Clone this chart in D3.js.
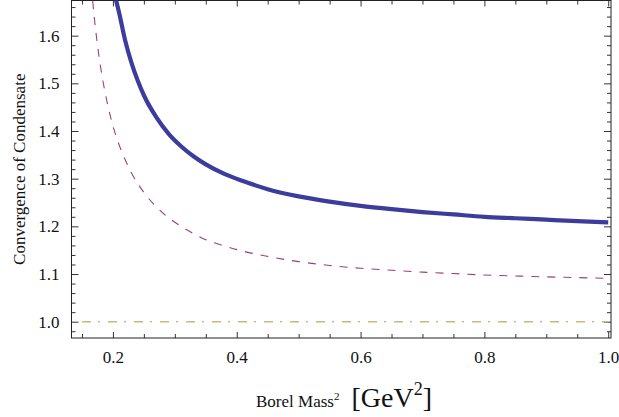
<!DOCTYPE html>
<html><head><meta charset="utf-8">
<script src="https://cdn.jsdelivr.net/npm/d3@7"></script>
<style>body{margin:0;background:#fff}svg{display:block}</style>
</head><body>
<script>
// Data
const massBlue = [0.20,0.21,0.22,0.23,0.24,0.25,0.27,0.29,0.31,0.33,0.35,0.38,0.41,0.45,0.50,0.55,0.60,0.65,0.70,0.75,0.80,0.85,0.90,0.95,1.00];
const convBlue = [1.700,1.648,1.589,1.543,1.506,1.475,1.429,1.394,1.368,1.347,1.330,1.310,1.295,1.278,1.263,1.252,1.243,1.236,1.230,1.225,1.220,1.217,1.214,1.211,1.2085];
const massPurple = [0.165,0.17,0.175,0.18,0.19,0.20,0.21,0.22,0.23,0.24,0.25,0.27,0.29,0.31,0.33,0.35,0.38,0.41,0.45,0.50,0.55,0.60,0.65,0.70,0.75,0.80,0.85,0.90,0.95,1.00];
const convPurple = [1.706,1.637,1.581,1.535,1.464,1.411,1.371,1.339,1.312,1.290,1.271,1.241,1.218,1.200,1.185,1.172,1.159,1.148,1.137,1.126,1.118,1.112,1.108,1.104,1.101,1.098,1.096,1.094,1.0925,1.091];
const massRef = [0.15,1.0];
const convRef = [1.0,1.0];
const xMajorTicks = [0.2,0.4,0.6,0.8,1.0];
const xMinorTicks = [0.15,0.25,0.3,0.35,0.45,0.5,0.55,0.65,0.7,0.75,0.85,0.9,0.95];
const yMajorTicks = [1.0,1.1,1.2,1.3,1.4,1.5,1.6];
const yMinorTicks = [0.98,1.02,1.04,1.06,1.08,1.12,1.14,1.16,1.18,1.22,1.24,1.26,1.28,1.32,1.34,1.36,1.38,1.42,1.44,1.46,1.48,1.52,1.54,1.56,1.58,1.62,1.64,1.66];

const W = 619, H = 417;
const L = 71.5, R = 611, T = 0.5, B = 338;
const x = d3.scaleLinear().domain([0.1331, 1.0045]).range([L, R]);
const y = d3.scaleLinear().domain([0.9658, 1.6748]).range([B, 0]);

const svg = d3.select("body").append("svg").attr("width", W).attr("height", H);
svg.append("defs").append("clipPath").attr("id","clip")
  .append("rect").attr("x", L).attr("y", T).attr("width", R-L).attr("height", B-T);

const font = "'Liberation Serif','Times New Roman',Times,serif";
const tickColor = "#333";

function styleAxis(g){
  g.attr("font-family", null);
  g.select(".domain").remove();
  g.selectAll("line").attr("stroke", tickColor).attr("stroke-width", 1);
  g.selectAll("text").style("font-family", font).style("font-size", "17px").attr("fill", "#111");
}
// bottom
svg.append("g").attr("transform", `translate(0,${B})`)
  .call(d3.axisBottom(x).tickValues(xMajorTicks).tickSize(-6).tickPadding(13).tickFormat(d3.format(".1f")))
  .call(styleAxis);
svg.append("g").attr("transform", `translate(0,${B})`)
  .call(d3.axisBottom(x).tickValues(xMinorTicks).tickSize(-4).tickFormat(""))
  .call(styleAxis);
// top
svg.append("g").attr("transform", `translate(0,${T})`)
  .call(d3.axisTop(x).tickValues(xMajorTicks).tickSize(-6).tickFormat(""))
  .call(styleAxis);
svg.append("g").attr("transform", `translate(0,${T})`)
  .call(d3.axisTop(x).tickValues(xMinorTicks).tickSize(-4).tickFormat(""))
  .call(styleAxis);
// left
svg.append("g").attr("transform", `translate(${L},0)`)
  .call(d3.axisLeft(y).tickValues(yMajorTicks).tickSize(-7).tickPadding(12).tickFormat(d3.format(".1f")))
  .call(styleAxis);
svg.append("g").attr("transform", `translate(${L},0)`)
  .call(d3.axisLeft(y).tickValues(yMinorTicks).tickSize(-4).tickFormat(""))
  .call(styleAxis);
// right
svg.append("g").attr("transform", `translate(${R},0)`)
  .call(d3.axisRight(y).tickValues(yMajorTicks).tickSize(-7).tickFormat(""))
  .call(styleAxis);
svg.append("g").attr("transform", `translate(${R},0)`)
  .call(d3.axisRight(y).tickValues(yMinorTicks).tickSize(-4).tickFormat(""))
  .call(styleAxis);

// frame
svg.append("rect").attr("x", L).attr("y", T).attr("width", R-L).attr("height", B-T)
  .attr("fill","none").attr("stroke","#222").attr("stroke-width",1);

const line = d3.line().x(d => x(d[0])).y(d => y(d[1])).curve(d3.curveMonotoneX);
const plot = svg.append("g").attr("clip-path","url(#clip)");

plot.append("path").datum(d3.zip(massRef, convRef)).attr("d", line)
  .attr("fill","none").attr("stroke","#c8b882").attr("stroke-width",1.6)
  .attr("stroke-dasharray","9,7,2,8");
plot.append("path").datum(d3.zip(massPurple, convPurple)).attr("d", line)
  .attr("fill","none").attr("stroke","#9c3f73").attr("stroke-width",1.1)
  .attr("stroke-dasharray","8,8");
plot.append("path").datum(d3.zip(massBlue, convBlue)).attr("d", line)
  .attr("fill","none").attr("stroke","#3c3c9c").attr("stroke-width",4.2);

// axis labels
svg.append("text").attr("transform", `translate(25,${(T+B)/2}) rotate(-90)`)
  .attr("text-anchor","middle").style("font-family",font).style("font-size","17px").attr("fill","#111")
  .text("Convergence of Condensate");

const xl = svg.append("text").attr("x", 344).attr("y", 407).attr("text-anchor","middle")
  .style("font-family",font).attr("fill","#111");
xl.append("tspan").style("font-size","17px").text("Borel Mass");
xl.append("tspan").style("font-size","11px").attr("dy",-7).text("2");
xl.append("tspan").style("font-size","28px").attr("dy",7).attr("dx",12).text("[GeV");
xl.append("tspan").style("font-size","18px").attr("dy",-12).text("2");
xl.append("tspan").style("font-size","28px").attr("dy",12).text("]");
</script>
</body></html>
